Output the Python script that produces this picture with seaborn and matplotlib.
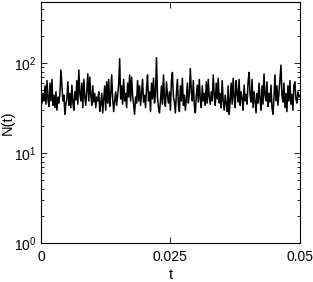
import numpy as np
import pandas as pd
import matplotlib
matplotlib.use("Agg")
import matplotlib.pyplot as plt
import seaborn as sns
from matplotlib.ticker import LogLocator

# N(t), one value per pixel column or so
N = [42, 36, 46, 38, 56, 35, 64, 40, 33, 60,
     38, 66, 34, 44, 32, 48, 30, 42, 36, 46,
     84, 56, 38, 44, 27, 35, 40, 62, 34, 46,
     32, 57, 37, 30, 48, 39, 64, 35, 84, 46,
     38, 60, 32, 66, 42, 34, 49, 76, 38, 70,
     44, 34, 56, 37, 46, 32, 42, 38, 48, 29,
     35, 46, 28, 39, 56, 30, 62, 36, 66, 33,
     45, 74, 40, 29, 38, 48, 34, 44, 58, 112,
     40, 56, 35, 66, 38, 46, 32, 60, 42, 74,
     38, 70, 44, 34, 27, 42, 36, 64, 38, 56,
     34, 46, 66, 37, 44, 32, 52, 74, 38, 48,
     29, 60, 40, 68, 36, 46, 115, 42, 32, 28,
     38, 56, 35, 74, 40, 33, 62, 44, 36, 48,
     30, 64, 79, 42, 37, 28, 46, 66, 35, 29,
     56, 38, 68, 34, 44, 30, 40, 60, 36, 46,
     87, 48, 38, 64, 34, 28, 44, 57, 37, 66,
     40, 32, 56, 38, 46, 34, 62, 36, 66, 42,
     35, 48, 38, 74, 44, 34, 60, 40, 68, 36,
     46, 32, 64, 38, 30, 44, 35, 29, 56, 27,
     38, 60, 35, 68, 42, 32, 64, 46, 37, 66,
     34, 48, 40, 30, 57, 38, 45, 35, 62, 79,
     44, 37, 66, 32, 48, 38, 28, 46, 36, 60,
     40, 30, 56, 35, 76, 44, 38, 62, 33, 46,
     37, 57, 32, 27, 42, 74, 38, 56, 34, 46,
     66, 95, 44, 37, 60, 32, 46, 29, 56, 38,
     64, 35, 45, 30, 57, 62, 40, 36, 48, 42,
     44]
t_end = 0.05
xticks = [0, 0.025, 0.05]
xticklabels = ["0", "0.025", "0.05"]

t = np.linspace(0, t_end, len(N))
df = pd.DataFrame({"t": t, "N": N})

sns.set_style("ticks")
plt.rcParams["font.family"] = ["Liberation Sans", "DejaVu Sans"]
plt.rcParams["mathtext.default"] = "regular"
plt.rcParams["xtick.direction"] = "in"
plt.rcParams["ytick.direction"] = "in"
for key in ["text.color", "axes.labelcolor", "xtick.color", "ytick.color"]:
    plt.rcParams[key] = "black"

fig = plt.figure(figsize=(3.13, 2.82), dpi=100)
ax = fig.add_axes([0.131, 0.138, 0.827, 0.855])
sns.lineplot(data=df, x="t", y="N", color="black", linewidth=1.1, ax=ax)

ax.set_yscale("log")
ax.set_ylim(1, 10 ** 2.68)
ax.set_xlim(0, t_end)
ax.set_xticks(xticks)
ax.set_xticklabels(xticklabels)
ax.yaxis.set_major_locator(LogLocator(base=10, numticks=5))
ax.yaxis.set_minor_locator(LogLocator(base=10, subs=np.arange(2, 10), numticks=10))
ax.tick_params(which="both", top=True, right=True, labelsize=10, width=0.6)
ax.tick_params(which="major", length=4)
ax.tick_params(which="minor", length=2)
ax.tick_params(axis="x", pad=5)
for s in ax.spines.values():
    s.set_linewidth(0.8)
    s.set_color("black")

ax.set_xlabel("t", fontsize=10.5, labelpad=3)
ax.set_ylabel("N(t)", fontsize=10.5)
ax.yaxis.set_label_coords(-0.1, 0.5)

fig.savefig("out.png", dpi=100)
